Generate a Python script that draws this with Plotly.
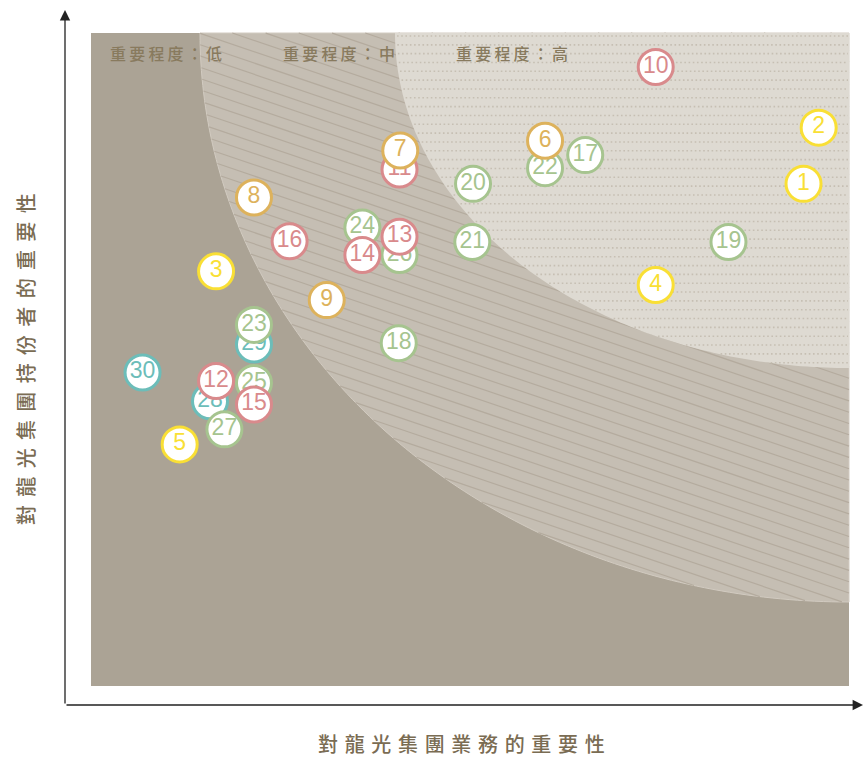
import numpy as np
import plotly.graph_objects as go

# ---------------- data ----------------
ids = [1, 2, 3, 4, 5, 6, 7, 8, 9, 10, 11, 12, 13, 14, 15,
       16, 17, 18, 19, 20, 21, 22, 23, 24, 25, 26, 27, 28, 29, 30]
business_importance = [9.40, 9.60, 1.65, 7.45, 1.17, 5.99, 4.08, 2.15, 3.11, 7.45,
                       4.07, 1.65, 4.07, 3.58, 2.15, 2.62, 6.52, 4.06, 8.41, 5.04,
                       5.03, 5.99, 2.15, 3.58, 2.15, 4.07, 1.76, 1.57, 2.15, 0.68]
stakeholder_importance = [7.69, 8.55, 6.35, 6.14, 3.70, 8.35, 8.20, 7.48, 5.91, 9.48,
                          7.91, 4.67, 6.88, 6.60, 4.31, 6.81, 8.13, 5.25, 6.80, 7.69,
                          6.80, 7.93, 5.53, 7.02, 4.64, 6.60, 3.93, 4.36, 5.23, 4.80]
groups = ["yellow"] * 5 + ["gold"] * 4 + ["pink"] * 7 + ["green"] * 11 + ["teal"] * 3
level_labels = ["重要程度：低", "重要程度：中", "重要程度：高"]
x_title = "對龍光集團業務的重要性"
y_title = "對龍光集團持份者的重要性"

# ---------------- styles ----------------
group_colors = {"yellow": "#F9DF35", "gold": "#DDB25C", "pink": "#D98A8C",
                "green": "#A6C48F", "teal": "#6CBDB9"}
C_DARK = "#ABA395"
C_MID = "#C5BEB3"
C_LIGHT = "#DEDAD2"
C_HATCH = "#B4AB9E"
C_DOT = "#C6BFB3"
LABEL_COLOR = "#887A5E"
TITLE_COLOR = "#7A6C53"
CJK = "Noto Sans CJK TC Medium, Noto Sans CJK TC, Noto Sans CJK SC, sans-serif"

# pixel geometry of the shaded panel (used to place the background art)
PX_L, PX_R, PX_T, PX_B = 91.0, 849.0, 33.0, 686.0
SX = (PX_R - PX_L) / 10.0
SY = (PX_B - PX_T) / 10.0


def dx(px):
    return (px - PX_L) / SX


def dy(py):
    return (PX_B - py) / SY


# figure plot area in pixels (axes lines with arrows)
AX_L, AX_R, AX_T, AX_B = 65.0, 863.0, 10.0, 705.0


def paper_x(px):
    return (px - AX_L) / (AX_R - AX_L)


def paper_y(py):
    return (AX_B - py) / (AX_B - AX_T)


fig = go.Figure()
shapes = []

# dark base rectangle
shapes.append(dict(type="rect", xref="x", yref="y", x0=dx(PX_L), x1=dx(PX_R),
                   y0=dy(PX_B), y1=dy(PX_T), fillcolor=C_DARK, line=dict(width=0),
                   layer="below"))

# ellipses centred on the top-right corner
BIG_A, BIG_B = 649.0, 569.0
SMALL_A, SMALL_B = 454.0, 335.0


def quarter_path(a, b):
    t = np.linspace(0, np.pi / 2, 120)
    xs = PX_R - a * np.cos(t)
    ys = PX_T + b * np.sin(t)
    pts = [(PX_R, PX_T)] + list(zip(xs, ys))
    pts = [(min(max(x, PX_L), PX_R), min(max(y, PX_T), PX_B)) for x, y in pts]
    d = "M " + " L ".join(f"{dx(x):.4f},{dy(y):.4f}" for x, y in pts) + " Z"
    return d


shapes.append(dict(type="path", xref="x", yref="y", path=quarter_path(BIG_A, BIG_B),
                   fillcolor=C_MID, line=dict(color="#D2CBC1", width=1), layer="below"))

# diagonal hatch lines inside the big region
slope = 0.34
spacing = 11.3
xs_s = np.linspace(PX_L, PX_R, 3000)
c = PX_T - slope * (PX_R - PX_L) - 5
while c < PX_B:
    ys_s = c + slope * (xs_s - PX_L)
    inside = ((((xs_s - PX_R) / BIG_A) ** 2 + ((ys_s - PX_T) / BIG_B) ** 2) <= 1.0) & \
             (ys_s >= PX_T) & (ys_s <= PX_B)
    idx = np.where(inside)[0]
    if len(idx) > 1:
        i0, i1 = idx[0], idx[-1]
        shapes.append(dict(type="line", xref="x", yref="y",
                           x0=dx(xs_s[i0]), y0=dy(ys_s[i0]),
                           x1=dx(xs_s[i1]), y1=dy(ys_s[i1]),
                           line=dict(color=C_HATCH, width=1.2), layer="below"))
    c += spacing

shapes.append(dict(type="path", xref="x", yref="y", path=quarter_path(SMALL_A, SMALL_B),
                   fillcolor=C_LIGHT, line=dict(width=0), layer="below"))

# dotted rows inside the light region
row_y = PX_T + 3.0
while row_y < PX_T + SMALL_B:
    xb = PX_R - SMALL_A * np.sqrt(max(0.0, 1 - ((row_y - PX_T) / SMALL_B) ** 2))
    shapes.append(dict(type="line", xref="x", yref="y",
                       x0=dx(xb + 2), y0=dy(row_y), x1=dx(PX_R - 1), y1=dy(row_y),
                       line=dict(color=C_DOT, width=1.6, dash="1.6px,2.6px"),
                       layer="below"))
    row_y += 8.83

# ---------------- points (drawn from highest number down) ----------------
for i in reversed(range(len(ids))):
    col = group_colors[groups[i]]
    fig.add_trace(go.Scatter(
        x=[business_importance[i]], y=[stakeholder_importance[i]],
        mode="markers+text", text=[str(ids[i])], textposition="middle center",
        textfont=dict(family="Liberation Sans Narrow, Arial Narrow, Liberation Sans, Arial, sans-serif",
                      size=23, color=col),
        marker=dict(size=35, color="white", line=dict(color=col, width=3)),
        hoverinfo="skip", showlegend=False, cliponaxis=False))

annotations = []
SP = "\u2009"
label_px = [108, 281, 454]
for lbl, lx in zip(level_labels, label_px):
    annotations.append(dict(text=SP.join(lbl), x=paper_x(lx), y=paper_y(53),
                            xref="paper", yref="paper",
                            xanchor="left", yanchor="middle", showarrow=False,
                            font=dict(family=CJK, size=16, color=LABEL_COLOR, weight=500)))

annotations.append(dict(text="\u2004".join(x_title), x=paper_x(461.5), y=paper_y(743.5),
                        xref="paper", yref="paper",
                        xanchor="center", yanchor="middle", showarrow=False,
                        font=dict(family=CJK, size=20, color=TITLE_COLOR, weight=500)))
annotations.append(dict(text="\u2005\u2006".join(y_title), x=paper_x(25), y=paper_y(359),
                        xref="paper", yref="paper",
                        xanchor="center", yanchor="middle", showarrow=False, textangle=-90,
                        font=dict(family=CJK, size=20, color=TITLE_COLOR, weight=500)))

# axis arrows
annotations.append(dict(x=dx(AX_L), y=dy(AX_T), ax=dx(AX_L), ay=dy(AX_B),
                        xref="x", yref="y", axref="x", ayref="y", text="",
                        showarrow=True, arrowhead=2, arrowsize=1.6, arrowwidth=1.3,
                        arrowcolor="#222222", standoff=0))
annotations.append(dict(x=dx(AX_R), y=dy(AX_B), ax=dx(AX_L), ay=dy(AX_B),
                        xref="x", yref="y", axref="x", ayref="y", text="",
                        showarrow=True, arrowhead=2, arrowsize=1.6, arrowwidth=1.3,
                        arrowcolor="#222222", standoff=0))

fig.update_layout(
    width=864, height=758, autosize=False,
    margin=dict(l=AX_L, r=864 - AX_R, t=AX_T, b=758 - AX_B, pad=0),
    paper_bgcolor="white", plot_bgcolor="white",
    xaxis=dict(range=[dx(AX_L), dx(AX_R)], visible=False, fixedrange=True),
    yaxis=dict(range=[dy(AX_B), dy(AX_T)], visible=False, fixedrange=True),
    shapes=shapes, annotations=annotations, showlegend=False,
)

fig.write_html("out.html", config={"displayModeBar": False},
               post_script="document.body.style.margin='0';document.body.style.overflow='hidden';")
